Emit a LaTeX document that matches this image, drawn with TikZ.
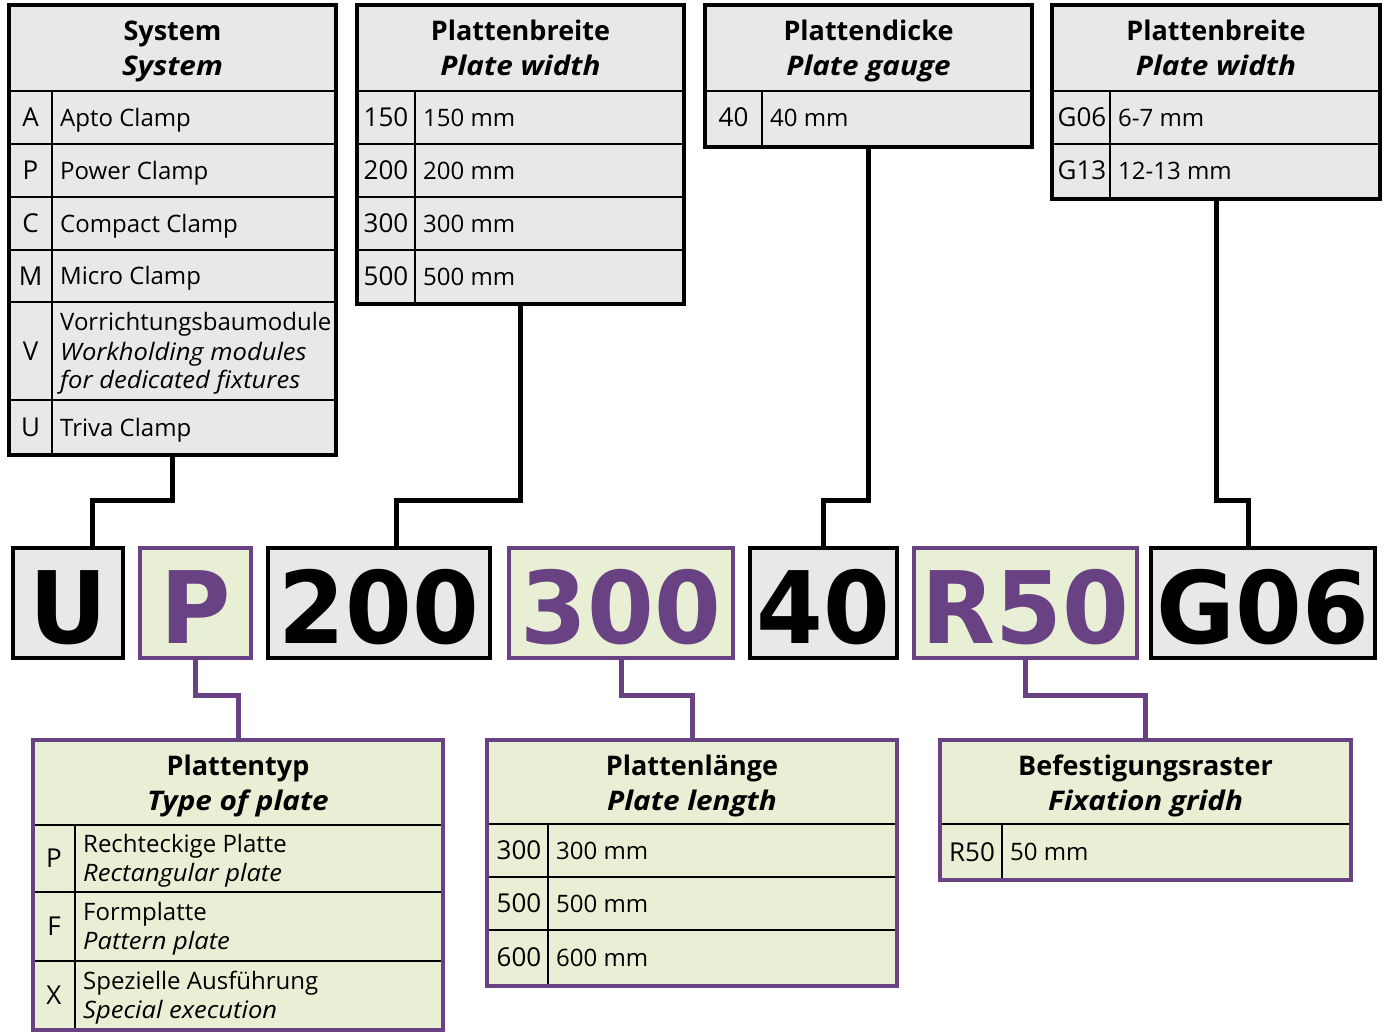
\documentclass[tikz,border=0pt]{standalone}
\usepackage{fontspec}
\setmainfont{Open Sans}
\newfontfamily\bigfont{DejaVu Sans}[FakeStretch=0.96]
\newfontfamily\itwide{Open Sans}[FakeStretch=1.065]
\newfontfamily\bitwide{Open Sans}[FakeStretch=1.1]
\definecolor{gfill}{RGB}{232,232,232}
\definecolor{pfill}{RGB}{232,239,212}
\definecolor{purp}{RGB}{105,66,131}
\tikzset{
  tbl/.style={rectangle, draw=black, line width=4.5pt, fill=gfill, inner sep=0pt, outer sep=0pt, anchor=north west},
  ptbl/.style={tbl, draw=purp, fill=pfill},
  cbox/.style={rectangle, draw=black, line width=4.5pt, fill=gfill, inner sep=0pt, outer sep=0pt, minimum height=110pt},
  pcbox/.style={cbox, draw=purp, fill=pfill},
  inln/.style={line width=1.5pt, black},
  conn/.style={line width=5pt, black},
  pconn/.style={line width=5pt, purp},
  hdA/.style={anchor=base, inner sep=0pt, font=\bfseries\fontsize{27}{31}\selectfont},
  hdB/.style={anchor=base, inner sep=0pt, font=\bitwide\bfseries\itshape\fontsize{27}{31}\selectfont},
  key/.style={anchor=base, inner sep=0pt, font=\fontsize{26}{30}\selectfont},
  val/.style={anchor=base west, inner sep=0pt, font=\fontsize{24}{29}\selectfont},
  vali/.style={anchor=base west, inner sep=0pt, font=\itwide\itshape\fontsize{24}{29}\selectfont},
  big/.style={anchor=base, inner sep=0pt, font=\bigfont\bfseries\fontsize{100}{110}\selectfont},
  pbig/.style={big, text=purp},
}
\begin{document}
\begin{tikzpicture}[x=1pt,y=-1pt]
\useasboundingbox (0,0) rectangle (1386,1034);

% ---------- top tables ----------
\node[tbl, minimum width=327pt, minimum height=450pt] (sys) at (9,5) {};
\draw[inln] (9,91) -- (336,91);
\foreach \yy in {144,197,250,302,400} \draw[inln] (9,\yy) -- (336,\yy);
\draw[inln] (52,91) -- (52,455);
\draw[line width=4.5pt] (sys.north west) rectangle (sys.south east);
\node[hdA] (sysh1) at (172.5,40) {System};
\node[hdB] (sysh2) at (172.5,75) {System};
\node[key] (sk1) at (30.5,126.5) {A}; \node[val] (sv1) at (60,126) {Apto Clamp};
\node[key] (sk2) at (30.5,179.5) {P}; \node[val] (sv2) at (60,179) {Power Clamp};
\node[key] (sk3) at (30.5,232.5) {C}; \node[val] (sv3) at (60,232) {Compact Clamp};
\node[key] (sk4) at (30.5,285) {M}; \node[val] (sv4) at (60,284.5) {Micro Clamp};
\node[key] (sk5) at (30.5,360) {V};
\node[val] (sv5a) at (60,330) {Vorrichtungsbaumodule};
\node[vali] (sv5b) at (60,360) {Workholding modules};
\node[vali] (sv5c) at (60,388) {for dedicated fixtures};
\node[key] (sk6) at (30.5,436.5) {U}; \node[val] (sv6) at (60,436) {Triva Clamp};

\node[tbl, minimum width=327pt, minimum height=299pt] (pb1) at (357,5) {};
\foreach \yy in {91,144,197,250} \draw[inln] (357,\yy) -- (684,\yy);
\draw[inln] (415,91) -- (415,304);
\draw[line width=4.5pt] (pb1.north west) rectangle (pb1.south east);
\node[hdA] (pb1h1) at (520.5,40) {Plattenbreite};
\node[hdB] (pb1h2) at (520.5,75) {Plate width};
\node[key] (bk1) at (386,126.5) {150}; \node[val] (bv1) at (423,126) {150 mm};
\node[key] (bk2) at (386,179.5) {200}; \node[val] (bv2) at (423,179) {200 mm};
\node[key] (bk3) at (386,232.5) {300}; \node[val] (bv3) at (423,232) {300 mm};
\node[key] (bk4) at (386,285.5) {500}; \node[val] (bv4) at (423,285) {500 mm};

\node[tbl, minimum width=327pt, minimum height=142pt] (pd) at (705,5) {};
\draw[inln] (705,91) -- (1032,91);
\draw[inln] (762,91) -- (762,147);
\draw[line width=4.5pt] (pd.north west) rectangle (pd.south east);
\node[hdA] (pdh1) at (868.5,40) {Plattendicke};
\node[hdB] (pdh2) at (868.5,75) {Plate gauge};
\node[key] (dk1) at (733.5,126.5) {40}; \node[val] (dv1) at (770,126) {40 mm};

\node[tbl, minimum width=328pt, minimum height=194pt] (pb2) at (1052,5) {};
\foreach \yy in {91,144} \draw[inln] (1052,\yy) -- (1380,\yy);
\draw[inln] (1110,91) -- (1110,199);
\draw[line width=4.5pt] (pb2.north west) rectangle (pb2.south east);
\node[hdA] (pb2h1) at (1216,40) {Plattenbreite};
\node[hdB] (pb2h2) at (1216,75) {Plate width};
\node[key] (gk1) at (1082,126.5) {G06}; \node[val] (gv1) at (1118,126) {6-7 mm};
\node[key] (gk2) at (1082,179.5) {G13}; \node[val] (gv2) at (1118,179) {12-13 mm};

% ---------- code boxes ----------
\node[cbox, minimum width=110pt] (cU) at (68,603) {};
\node[pcbox, minimum width=111pt] (cP) at (195.5,603) {};
\node[cbox, minimum width=222pt] (c200) at (379,603) {};
\node[pcbox, minimum width=224pt] (c300) at (621,603) {};
\node[cbox, minimum width=147pt] (c40) at (823.5,603) {};
\node[pcbox, minimum width=223pt] (cR) at (1025.5,603) {};
\node[cbox, minimum width=224pt] (cG) at (1263,603) {};
\node[big] (tU) at (68,643) {U};
\node[pbig] (tP) at (195.5,643) {P};
\node[big] (t200) at (379,643) {200};
\node[pbig] (t300) at (621,643) {300};
\node[big] (t40) at (823.5,643) {40};
\node[pbig] (tR) at (1025.5,643) {R50};
\node[big] (tG) at (1263,643) {G06};

% ---------- bottom tables ----------
\node[ptbl, minimum width=410pt, minimum height=290pt] (ptyp) at (33,740) {};
\foreach \yy in {825,892,961} \draw[inln] (33,\yy) -- (443,\yy);
\draw[inln] (75,825) -- (75,1030);
\draw[line width=4.5pt, purp] (ptyp.north west) rectangle (ptyp.south east);
\node[hdA] (pth1) at (238,775) {Plattentyp};
\node[hdB] (pth2) at (238,810) {Type of plate};
\node[key] (tk1) at (54,867.5) {P};
\node[val] (tv1a) at (83,852.5) {Rechteckige Platte};
\node[vali] (tv1b) at (83,881.5) {Rectangular plate};
\node[key] (tk2) at (54,935.5) {F};
\node[val] (tv2a) at (83,920.5) {Formplatte};
\node[vali] (tv2b) at (83,949.5) {Pattern plate};
\node[key] (tk3) at (54,1004.5) {X};
\node[val] (tv3a) at (83,989.5) {Spezielle Ausführung};
\node[vali] (tv3b) at (83,1018.5) {Special execution};

\node[ptbl, minimum width=410pt, minimum height=246pt] (plen) at (487,740) {};
\foreach \yy in {824,877,930} \draw[inln] (487,\yy) -- (897,\yy);
\draw[inln] (548,824) -- (548,986);
\draw[line width=4.5pt, purp] (plen.north west) rectangle (plen.south east);
\node[hdA] (plh1) at (692,775) {Plattenlänge};
\node[hdB] (plh2) at (692,810) {Plate length};
\node[key] (lk1) at (519,859.5) {300}; \node[val] (lv1) at (556,859) {300 mm};
\node[key] (lk2) at (519,912.5) {500}; \node[val] (lv2) at (556,912) {500 mm};
\node[key] (lk3) at (519,966.5) {600}; \node[val] (lv3) at (556,966) {600 mm};

\node[ptbl, minimum width=411pt, minimum height=140pt] (bef) at (940,740) {};
\draw[inln] (940,824) -- (1351,824);
\draw[inln] (1002,824) -- (1002,880);
\draw[line width=4.5pt, purp] (bef.north west) rectangle (bef.south east);
\node[hdA] (bfh1) at (1145.5,775) {Befestigungsraster};
\node[hdB] (bfh2) at (1145.5,810) {Fixation gridh};
\node[key] (fk1) at (972,861) {R50}; \node[val] (fv1) at (1010,860.5) {50 mm};

% ---------- connectors ----------
\draw[conn] (sys.south) -- ++(0,45) -| ([xshift=24pt]cU.north);
\draw[conn] (pb1.south) -- ++(0,196) -| ([xshift=17pt]c200.north);
\draw[conn] (pd.south) -- ++(0,353) -| (c40.north);
\draw[conn] (pb2.south) -- ++(0,301) -| ([xshift=-15pt]cG.north);
\draw[pconn] (cP.south) -- ++(0,37) -| (ptyp.north);
\draw[pconn] (c300.south) -- ++(0,37) -| (plen.north);
\draw[pconn] (cR.south) -- ++(0,37) -| (bef.north);
\end{tikzpicture}
\end{document}
